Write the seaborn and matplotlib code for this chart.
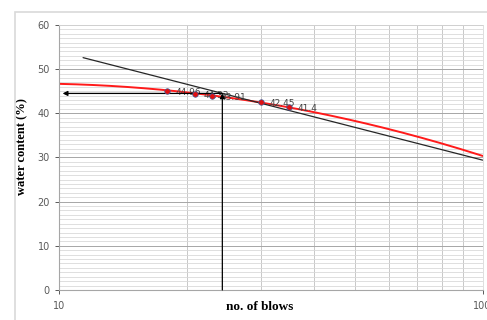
import numpy as np
import pandas as pd
import matplotlib
matplotlib.use("Agg")
import matplotlib.pyplot as plt
import seaborn as sns
from matplotlib.ticker import FixedLocator, NullFormatter
from matplotlib.patches import Rectangle

# liquid limit test data
blows = [18, 21, 23, 30, 35]
water = [44.96, 44.32, 43.91, 42.45, 41.4]
labels = ["44.96", "44.32", "43.91", "42.45", "41.4"]

# points read along the red trendline
trend_x = [10, 18, 30, 57.4, 100]
trend_y = [46.8, 44.95, 42.4, 37.2, 30.2]

# hand drawn flow line (end points)
flow_x = [11.4, 100]
flow_y = [52.6, 29.4]

# arrows for the reading at the intersection
read_x = 24.3
read_y = 44.5

sns.set_style("white")

fig = plt.figure(figsize=(4.87, 3.2), dpi=100)
ax = fig.add_axes([0.1211, 0.0938, 0.8699, 0.8282])

# outer chart frame (cropped in the original)
fig.patches.append(Rectangle((15 / 487, -0.1), 1.2, 1 - 12 / 320 + 0.1,
                             transform=fig.transFigure, fill=False,
                             edgecolor="#d9d9d9", linewidth=1.2))

df = pd.DataFrame({"blows": blows, "water": water})

# smooth order 2 trendline (in log x) through the read trend points
coef = np.polyfit(np.log10(trend_x), trend_y, 2)
tx = np.logspace(1, 2, 200)
trend = pd.DataFrame({"blows": tx, "water": np.polyval(coef, np.log10(tx))})

ax.set_xscale("log")
ax.set_xlim(10, 100)
ax.set_ylim(0, 60)

# grid
ax.yaxis.set_minor_locator(FixedLocator(np.arange(0, 61, 1)))
ax.xaxis.set_minor_locator(FixedLocator(np.arange(20, 100, 10)))
ax.xaxis.set_minor_formatter(NullFormatter())
ax.grid(which="minor", axis="y", color="#d9d9d9", linewidth=0.6)
ax.grid(which="major", axis="y", color="#a6a6a6", linewidth=0.7)
ax.grid(which="minor", axis="x", color="#c8c8c8", linewidth=0.7)
ax.set_axisbelow(True)

sns.lineplot(data=trend, x="blows", y="water", color="#ff1a1a", linewidth=1.4, ax=ax)
ax.plot(flow_x, flow_y, color="#262626", linewidth=0.9)
sns.scatterplot(data=df, x="blows", y="water", color="#e01010", edgecolor="#4060a0",
                s=16, linewidth=0.5, ax=ax, zorder=5)

for x, y, t in zip(blows, water, labels):
    ax.annotate(t, (x, y), xytext=(6, -2.5), textcoords="offset points",
                fontsize=6.5, color="#404040")

ax.annotate("", xy=(read_x, read_y), xytext=(read_x, 0),
            arrowprops=dict(arrowstyle="-|>", color="black", lw=0.9,
                            mutation_scale=7, shrinkA=0, shrinkB=0))
ax.annotate("", xy=(10.2, read_y), xytext=(read_x, read_y),
            arrowprops=dict(arrowstyle="-|>", color="black", lw=0.9,
                            mutation_scale=7, shrinkA=0, shrinkB=0))

ax.set_yticks(range(0, 61, 10))
ax.set_xticks([10, 100])
ax.set_xticklabels(["10", "100"])
ax.tick_params(axis="both", which="major", labelsize=7, colors="#595959",
               length=3, width=0.7, direction="out", left=True, bottom=True)
ax.tick_params(axis="x", which="minor", length=0)
ax.tick_params(axis="x", pad=5)

for s in ["left", "bottom"]:
    ax.spines[s].set_color("#a6a6a6")
    ax.spines[s].set_linewidth(0.8)
for s in ["top", "right"]:
    ax.spines[s].set_color("#d9d9d9")
    ax.spines[s].set_linewidth(0.6)

ax.set_xlabel("no. of blows", family="Liberation Serif", fontweight="bold",
              fontsize=9.5, color="black")
ax.set_ylabel("water content (%)", family="Liberation Serif", fontweight="bold",
              fontsize=9, color="black")
ax.xaxis.set_label_coords(0.473, -0.042)
ax.yaxis.set_label_coords(-0.073, 0.54)

fig.savefig("out.png", dpi=100)
